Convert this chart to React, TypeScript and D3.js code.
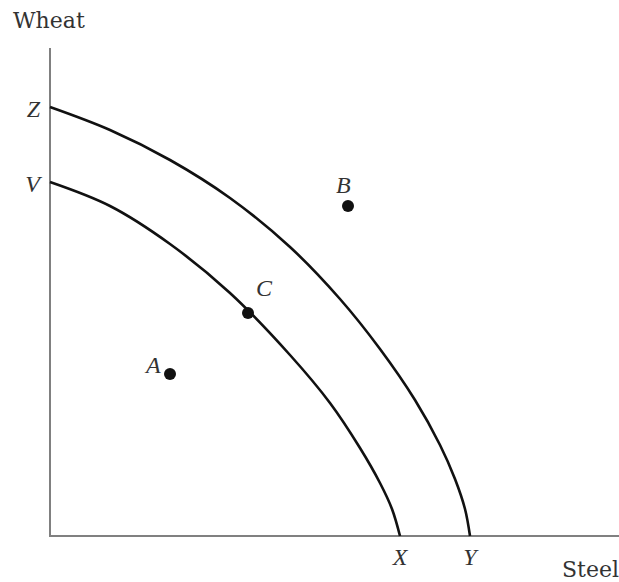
import * as d3 from "d3";

const WIDTH = 619;
const HEIGHT = 582;

// axis extents (data units)
const X_MAX = 569;
const Y_MAX = 488;

// outer frontier Z -> Y
const outerSteel = [0, 60, 120, 180, 240, 290, 330, 365, 390, 405, 415, 420];
const outerWheat = [429, 406, 376, 338, 289, 237, 187, 136, 91, 57, 27, 0];

// inner frontier V -> X
const innerSteel = [0, 60, 120, 180, 240, 280, 310, 330, 342, 350];
const innerWheat = [354, 330, 292, 243, 181, 133, 88, 53, 27, 0];

// points
const pointNames = ["A", "B", "C"];
const pointSteel = [120, 298, 198];
const pointWheat = [162, 330, 223];

// intercept labels
const wheatIntercepts = ["Z", "V"];
const steelIntercepts = ["X", "Y"];

function App() {
  const xScale = d3.scaleLinear().domain([0, X_MAX]).range([50, 619]);
  const yScale = d3.scaleLinear().domain([0, Y_MAX]).range([536, 48]);

  const line = d3
    .line<[number, number]>()
    .x((d) => xScale(d[0]))
    .y((d) => yScale(d[1]))
    .curve(d3.curveCatmullRom.alpha(0.5));

  const outer = outerSteel.map((s, i) => [s, outerWheat[i]] as [number, number]);
  const inner = innerSteel.map((s, i) => [s, innerWheat[i]] as [number, number]);
  const curves = [outer, inner];

  const points = pointNames.map((name, i) => ({
    name,
    x: xScale(pointSteel[i]),
    y: yScale(pointWheat[i]),
  }));
  // label offsets relative to each dot
  const labelOffset: Record<string, [number, number]> = {
    A: [-24, -1],
    B: [-12, -13],
    C: [8, -17],
  };

  const wheatY = [outerWheat[0], innerWheat[0]].map((v) => yScale(v));
  const steelX = [innerSteel[innerSteel.length - 1], outerSteel[outerSteel.length - 1]].map((v) => xScale(v));

  const italic = { fontFamily: "'Liberation Serif', serif", fontStyle: "italic", fontSize: 24, fill: "#333" };
  const roman = { fontFamily: "'DejaVu Serif', serif", fontSize: 22, fill: "#333" };

  return (
    <svg
      width={WIDTH}
      height={HEIGHT}
      style={{ position: "absolute", left: 0, top: 0, background: "#fff" }}
    >
      {/* axes */}
      <line x1={xScale(0)} x2={xScale(0)} y1={yScale(Y_MAX)} y2={yScale(0)} stroke="#808080" strokeWidth={2} />
      <line x1={xScale(0) - 1} x2={xScale(X_MAX)} y1={yScale(0)} y2={yScale(0)} stroke="#808080" strokeWidth={2} />

      {curves.map((c, i) => (
        <path key={i} d={line(c) ?? ""} fill="none" stroke="#111" strokeWidth={2.6} />
      ))}

      {points.map((p) => (
        <g key={p.name}>
          <circle cx={p.x} cy={p.y} r={6} fill="#111" />
          <text x={p.x + labelOffset[p.name][0]} y={p.y + labelOffset[p.name][1]} {...italic}>
            {p.name}
          </text>
        </g>
      ))}

      {wheatIntercepts.map((t, i) => (
        <text key={t} x={xScale(0) - 10} y={wheatY[i] + 10} textAnchor="end" {...italic}>
          {t}
        </text>
      ))}
      {steelIntercepts.map((t, i) => (
        <text key={t} x={steelX[i]} y={565} textAnchor="middle" {...italic}>
          {t}
        </text>
      ))}

      <text x={13} y={28} {...roman}>Wheat</text>
      <text x={562} y={577} {...roman}>Steel</text>
    </svg>
  );
}

export default App;
